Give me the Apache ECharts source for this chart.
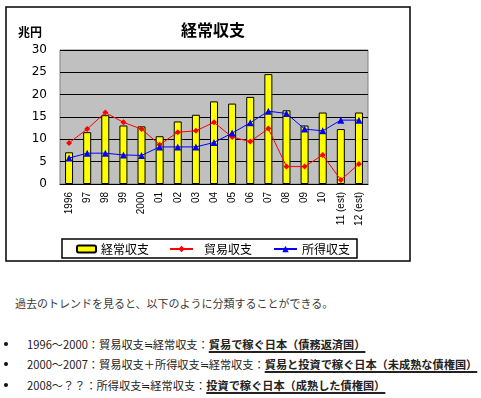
<!DOCTYPE html>
<html>
<head>
<meta charset="utf-8">
<script src="https://cdn.jsdelivr.net/npm/echarts@6/dist/echarts.min.js"></script>
<style>
  html, body { margin: 0; padding: 0; background: #fff; }
  #chart { position: absolute; left: 0; top: 0; width: 481px; height: 265px; }
  .txt { position: absolute; white-space: nowrap; font-family: "Noto Sans CJK JP", sans-serif; }
  .lead { left: 15px; top: 295px; font-size: 11px; color: #3a3a3a; }
  .item { left: 27px; font-size: 11.2px; color: #222; }
  .item u { font-weight: bold; text-decoration-thickness: 1.5px; text-underline-offset: 2px; }
  .dot { position: absolute; left: 4px; width: 4px; height: 4px; border-radius: 2px; background: #111; }
</style>
</head>
<body>
<div id="chart"></div>
<div class="txt lead">過去のトレンドを見ると、以下のように分類することができる。</div>
<div class="dot" style="top:342px"></div>
<div class="txt item" style="top:336px">1996～2000：貿易収支≒経常収支：<u>貿易で稼ぐ日本（債務返済国） </u></div>
<div class="dot" style="top:362px"></div>
<div class="txt item" style="top:356px">2000～2007：貿易収支＋所得収支≒経常収支：<u>貿易と投資で稼ぐ日本（未成熟な債権国）</u></div>
<div class="dot" style="top:383px"></div>
<div class="txt item" style="top:377px">2008～？？：所得収支≒経常収支：<u>投資で稼ぐ日本（成熟した債権国）</u></div>
<script>
const years = ["1996", "97", "98", "99", "2000", "01", "02", "03", "04", "05", "06", "07", "08", "09", "10", "11 (est)", "12 (est)"];
const currentAccount = [7.1, 11.6, 15.4, 13.1, 12.9, 10.7, 14.0, 15.5, 18.5, 18.0, 19.5, 24.6, 16.5, 13.1, 16.0, 12.3, 16.0];
const tradeBalance = [9.2, 12.3, 16.0, 13.8, 12.3, 8.8, 11.6, 11.9, 13.8, 10.5, 9.5, 12.4, 3.9, 3.9, 6.5, 0.9, 4.5];
const incomeBalance = [5.8, 6.9, 6.9, 6.5, 6.4, 8.3, 8.3, 8.3, 9.3, 11.4, 13.7, 16.3, 15.8, 12.3, 11.9, 14.3, 14.3];
const yTicks = [0, 5, 10, 15, 20, 25, 30];

const jp = '"Noto Sans CJK JP", sans-serif';
const chart = echarts.init(document.getElementById("chart"));
const option = {
  animation: false,
  title: {
    text: "経常収支",
    left: 208,
    top: 17,
    textAlign: "center",
    textStyle: { fontFamily: jp, fontSize: 16, fontWeight: "bold", color: "#000" }
  },
  graphic: [
    { type: "rect", shape: { x: 6, y: 7, width: 404, height: 254 }, style: { fill: "none", stroke: "#000", lineWidth: 1.5 } },
    { type: "rect", shape: { x: 62, y: 239, width: 295, height: 19 }, style: { fill: "none", stroke: "#000", lineWidth: 1.5 } },
    { type: "text", x: 18, y: 26, style: { text: "兆円", font: 'bold 12px "Noto Sans CJK JP"', fill: "#000" } }
  ],
  legend: [
    { data: ["経常収支"], left: 76, top: 243, padding: 0, itemWidth: 19, itemHeight: 7,
      textStyle: { fontFamily: jp, fontSize: 12, color: "#000" } },
    { data: ["貿易収支"], left: 169, top: 243, padding: 0, itemWidth: 23, itemHeight: 8,
      textStyle: { fontFamily: jp, fontSize: 12, color: "#000", padding: [0, 0, 0, 6] } },
    { data: ["所得収支"], left: 273, top: 243, padding: 0, itemWidth: 23, itemHeight: 8,
      textStyle: { fontFamily: jp, fontSize: 12, color: "#000" } }
  ],
  grid: {
    left: 60, top: 50, width: 308, height: 134,
    show: true, backgroundColor: "#c0c0c0", borderColor: "#808080", borderWidth: 1
  },
  xAxis: {
    type: "category",
    data: years,
    axisLine: { lineStyle: { color: "#000", width: 1 } },
    axisTick: { inside: true, length: 4, lineStyle: { color: "#000" } },
    axisLabel: { rotate: 90, interval: 0, margin: 8, fontSize: 10, fontFamily: "Liberation Sans, Arial", color: "#000" }
  },
  yAxis: {
    type: "value",
    min: yTicks[0],
    max: yTicks[yTicks.length - 1],
    interval: 5,
    axisLine: { show: false },
    axisTick: { show: false },
    splitLine: { lineStyle: { color: "#000", width: 1 } },
    axisLabel: { margin: 13, fontSize: 12, fontFamily: "DejaVu Sans", color: "#000" }
  },
  series: [
    {
      name: "経常収支", type: "bar", data: currentAccount, barWidth: 8,
      itemStyle: { color: "#ffff00", borderColor: "#000", borderWidth: 1 }
    },
    {
      name: "貿易収支", type: "line", data: tradeBalance,
      symbol: "diamond", symbolSize: 6,
      lineStyle: { color: "#ff0000", width: 1 },
      itemStyle: { color: "#ff0000" }
    },
    {
      name: "所得収支", type: "line", data: incomeBalance,
      symbol: "triangle", symbolSize: 7,
      lineStyle: { color: "#0000ff", width: 1 },
      itemStyle: { color: "#0000ff" }
    }
  ]
};
chart.setOption(option);
</script>
</body>
</html>
